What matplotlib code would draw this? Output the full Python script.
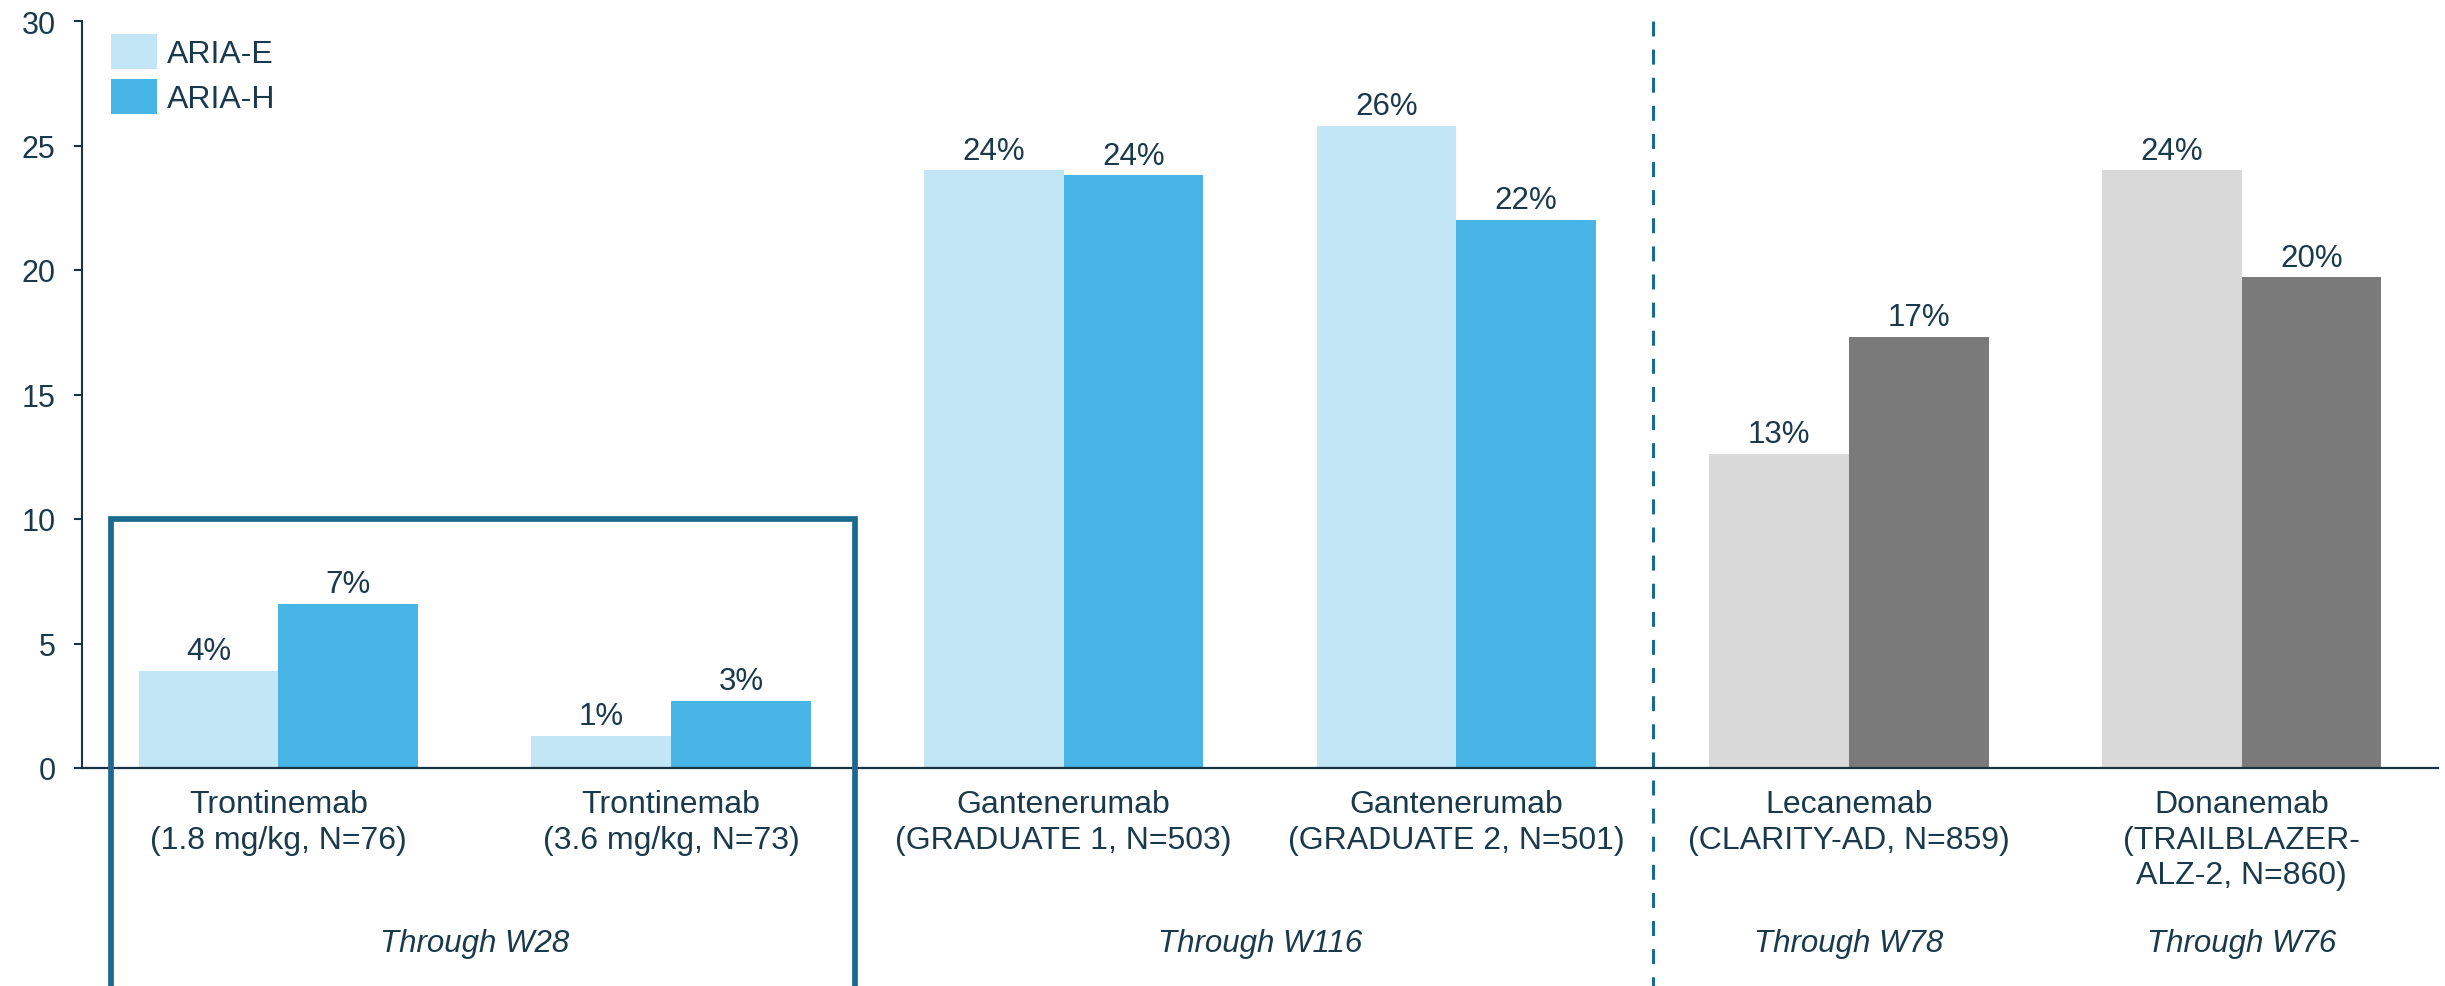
import matplotlib.pyplot as plt
import numpy as np

plt.rcParams['font.family'] = ['Liberation Sans', 'DejaVu Sans']

# data
kategori = ["Trontinemab\n(1.8 mg/kg, N=76)",
            "Trontinemab\n(3.6 mg/kg, N=73)",
            "Gantenerumab\n(GRADUATE 1, N=503)",
            "Gantenerumab\n(GRADUATE 2, N=501)",
            "Lecanemab\n(CLARITY-AD, N=859)",
            "Donanemab\n(TRAILBLAZER-\nALZ-2, N=860)"]
aria_e = [3.9, 1.3, 24.0, 25.8, 12.6, 24.0]
aria_h = [6.6, 2.7, 23.8, 22.0, 17.3, 19.7]
label_e = ["4%", "1%", "24%", "26%", "13%", "24%"]
label_h = ["7%", "3%", "24%", "22%", "17%", "20%"]
periode = ["Through W28", "Through W116", "Through W78", "Through W76"]
posisi_periode = [0.5, 2.5, 4, 5]

# styles
teks = '#1a3a4c'
garis = '#1a3344'
biru_muda, biru = '#c2e6f5', '#47b5e5'
abu_muda, abu = '#d9d9d9', '#7a7a7a'
aksen = '#1a6a90'
warna_e = [biru_muda] * 4 + [abu_muda] * 2
warna_h = [biru] * 4 + [abu] * 2

fig = plt.figure(figsize=(24.45, 9.87), dpi=100)
ax = fig.add_axes([82 / 2445, 1 - 769 / 987, (2438 - 82) / 2445, 747 / 987])

x = np.arange(len(kategori))
w = 0.356
b1 = ax.bar(x - w / 2, aria_e, width=w, color=warna_e, label='ARIA-E')
b2 = ax.bar(x + w / 2, aria_h, width=w, color=warna_h, label='ARIA-H')

for bars, labels in [(b1, label_e), (b2, label_h)]:
    for r, lab in zip(bars, labels):
        ax.annotate(lab, (r.get_x() + r.get_width() / 2, r.get_height()),
                    xytext=(0, 3.5), textcoords='offset points',
                    ha='center', va='bottom', fontsize=22.5, color=teks)

ax.set_xlim(-0.5, 5.5)
ax.set_ylim(0, 30)
ax.set_yticks(range(0, 31, 5))
ax.set_xticks([])
ax.tick_params(axis='y', length=6, width=1.5, pad=13, labelsize=22,
               colors=garis, labelcolor=teks)
for s in ['top', 'right']:
    ax.spines[s].set_visible(False)
ax.spines['left'].set_color(garis)
ax.spines['left'].set_linewidth(1.5)
ax.spines['bottom'].set_color(garis)
ax.spines['bottom'].set_linewidth(1.6)

trans = ax.get_xaxis_transform()
for xi, k in zip(x, kategori):
    ax.text(xi, -0.028, k, transform=trans, ha='center', va='top',
            fontsize=23, color=teks, linespacing=1.25)
for xp, p in zip(posisi_periode, periode):
    ax.text(xp, -0.245, p, transform=trans, ha='center', va='baseline',
            fontsize=22.5, color=teks, style='italic')

# garis putus-putus pemisah
ax.plot([3.5, 3.5], [1.0, -0.35], transform=trans, color=aksen, lw=2.2,
        linestyle=(0, (4.9, 4.3)), clip_on=False)

# kotak trontinemab
ax.plot([-0.426, -0.426, 1.468, 1.468], [-10, 10, 10, -10], color=aksen,
        lw=4.1, clip_on=False, solid_joinstyle='miter', zorder=5)

leg = ax.legend(loc='upper left', bbox_to_anchor=(111 / 2445, 1 - 35 / 987),
                bbox_transform=fig.transFigure, frameon=False, fontsize=23,
                handlelength=1.45, handleheight=1.3, handletextpad=0.3,
                labelspacing=0.3, borderpad=0, borderaxespad=0)
for t in leg.get_texts():
    t.set_color(teks)

fig.savefig('out.png', dpi=100)
